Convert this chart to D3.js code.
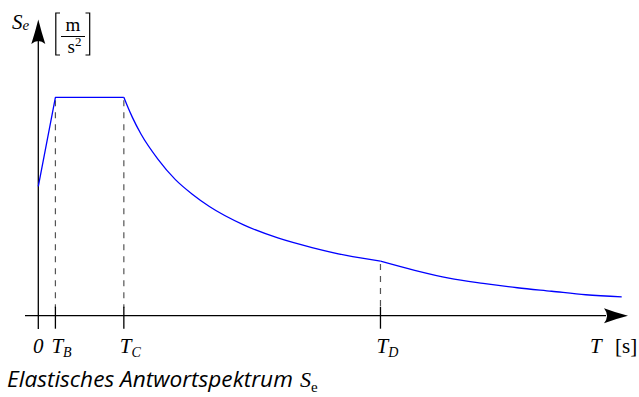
<!DOCTYPE html>
<html>
<head>
<meta charset="utf-8">
<script src="https://cdn.jsdelivr.net/npm/d3@7"></script>
<style>
  html, body { margin: 0; padding: 0; background: #fff; }
  svg { display: block; }
</style>
</head>
<body>
<svg id="chart" width="639" height="397"></svg>
<script>
// Elastic response spectrum: corner periods [s] and spectral acceleration [m/s^2]
const cornerNames = ["0", "B", "C", "D"];
const cornerPeriods = [0, 0.1, 0.5, 2.0];

// rising branch and plateau (0 .. T_C)
const risePeriods = [0, 0.1, 0.5];
const riseValues  = [1.48, 2.5, 2.5];

// constant-velocity branch (T_C .. T_D)
const velPeriods = [0.5, 0.525, 0.55, 0.6, 0.7, 0.8, 0.9, 1.0, 1.2, 1.4, 1.6, 1.8, 2.0];
const velValues  = [2.5, 2.38, 2.27, 2.08, 1.79, 1.56, 1.39, 1.25, 1.04, 0.89, 0.78, 0.69, 0.625];

// constant-displacement branch (T_D .. end)
const dispPeriods = [2.0, 2.2, 2.4, 2.6, 2.8, 3.0, 3.2, 3.41];
const dispValues  = [0.625, 0.52, 0.43, 0.37, 0.32, 0.28, 0.24, 0.215];

const svg = d3.select("#chart");

const x = d3.scaleLinear().domain([0, 3.41]).range([38.3, 621.7]);
const y = d3.scaleLinear().domain([0, 2.5]).range([315.7, 97.3]);

const x0 = x(0), y0 = y(0);

// dashed guides from the curve down to the period axis
const cornerValues = [null, 2.5, 2.5, 0.625];
cornerPeriods.forEach((t, i) => {
  if (cornerValues[i] == null) return;
  svg.append("line")
    .attr("x1", x(t)).attr("x2", x(t))
    .attr("y1", y(cornerValues[i]) + 3).attr("y2", y0 - 8)
    .attr("stroke", "#555").attr("stroke-width", 1.2)
    .attr("stroke-dasharray", "6,6");
});

// axes
const axisG = svg.append("g").attr("stroke", "#000").attr("stroke-width", 1.3);
axisG.append("line").attr("x1", 25).attr("x2", 606).attr("y1", y0).attr("y2", y0);
axisG.append("line").attr("x1", x0).attr("x2", x0).attr("y1", 329).attr("y2", 40);

// tick marks at the corner periods
cornerPeriods.slice(1).forEach(t => {
  axisG.append("line")
    .attr("x1", x(t)).attr("x2", x(t))
    .attr("y1", y0 - 9).attr("y2", y0 + 13);
});

// arrowheads
const tipX = 628;
svg.append("path")
  .attr("d", `M${tipX},${y0} Q${tipX - 12},${y0 - 3} ${tipX - 24},${y0 - 7.5}
              Q${tipX - 18},${y0} ${tipX - 24},${y0 + 7.5}
              Q${tipX - 12},${y0 + 3} ${tipX},${y0} Z`)
  .attr("fill", "#000");
const tipY = 19.5;
svg.append("path")
  .attr("d", `M${x0},${tipY} Q${x0 - 3},${tipY + 12} ${x0 - 7},${tipY + 24.5}
              Q${x0},${tipY + 18.5} ${x0 + 7},${tipY + 24.5}
              Q${x0 + 3},${tipY + 12} ${x0},${tipY} Z`)
  .attr("fill", "#000");

// spectrum curve
const lineLin = d3.line().x(d => x(d[0])).y(d => y(d[1]));
const lineSmooth = d3.line().x(d => x(d[0])).y(d => y(d[1])).curve(d3.curveMonotoneX);
const curveStyle = p => p.attr("fill", "none").attr("stroke", "#0000ff").attr("stroke-width", 1.3)
  .attr("stroke-linejoin", "round");

svg.append("path").datum(d3.zip(risePeriods, riseValues)).attr("d", lineLin).call(curveStyle);
svg.append("path").datum(d3.zip(velPeriods, velValues)).attr("d", lineSmooth).call(curveStyle);
svg.append("path").datum(d3.zip(dispPeriods, dispValues)).attr("d", lineSmooth).call(curveStyle);

// tick labels
const serif = "'Liberation Serif', 'Times New Roman', serif";
const labelY = 353;
cornerPeriods.forEach((t, i) => {
  const txt = svg.append("text")
    .attr("font-family", serif).attr("font-style", "italic").attr("font-size", 21)
    .attr("fill", "#000").attr("y", labelY);
  if (cornerNames[i] === "0") {
    txt.attr("x", x(t)).attr("text-anchor", "middle").text("0");
  } else {
    txt.attr("x", x(t) - 4);
    txt.append("tspan").text("T");
    txt.append("tspan").attr("font-size", 14).attr("dy", 4).text(cornerNames[i]);
  }
});

// period axis title
svg.append("text")
  .attr("font-family", serif).attr("font-style", "italic").attr("font-size", 21)
  .attr("x", 590).attr("y", labelY).text("T");
svg.append("text")
  .attr("font-family", serif).attr("font-size", 21)
  .attr("x", 615).attr("y", labelY).text("[s]");

// spectral acceleration axis title
const seLabel = svg.append("text")
  .attr("font-family", serif).attr("font-style", "italic").attr("font-size", 21)
  .attr("x", 12).attr("y", 29);
seLabel.append("tspan").text("S");
seLabel.append("tspan").attr("font-size", 15).attr("dy", 1).text("e");

// unit [m / s²]
const unitG = svg.append("g");
unitG.append("path").attr("d", "M60,13 H55.8 V55 H60")
  .attr("fill", "none").attr("stroke", "#000").attr("stroke-width", 1.2);
unitG.append("path").attr("d", "M85.5,13 H89.7 V55 H85.5")
  .attr("fill", "none").attr("stroke", "#000").attr("stroke-width", 1.2);
unitG.append("line").attr("x1", 61).attr("x2", 85).attr("y1", 36.5).attr("y2", 36.5)
  .attr("stroke", "#000").attr("stroke-width", 1);
unitG.append("text").attr("font-family", serif).attr("font-size", 19)
  .attr("x", 73).attr("y", 31).attr("text-anchor", "middle").text("m");
const sText = unitG.append("text").attr("font-family", serif).attr("font-size", 19)
  .attr("x", 67.5).attr("y", 53);
sText.append("tspan").text("s");
sText.append("tspan").attr("font-size", 13).attr("dy", -7).text("2");

// caption
const cap = svg.append("text")
  .attr("font-family", "'Open Sans', sans-serif").attr("font-style", "italic")
  .attr("font-size", 19).attr("x", 7).attr("y", 387).attr("fill", "#000")
  .text("Elastisches Antwortspektrum");
const capW = cap.node().getComputedTextLength();
cap.attr("font-size", 19 * 286 / capW);
const capSym = svg.append("text").attr("font-family", serif).attr("font-size", 22)
  .attr("x", 300).attr("y", 387);
capSym.append("tspan").attr("font-style", "italic").text("S");
capSym.append("tspan").attr("font-size", 15).attr("dy", 5).text("e");
</script>
</body>
</html>
